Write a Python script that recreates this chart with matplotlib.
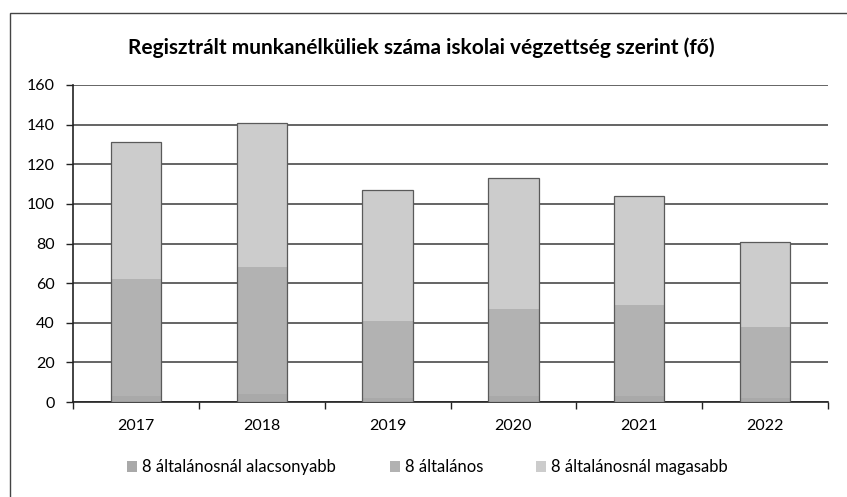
import matplotlib.pyplot as plt
import numpy as np
from matplotlib.patches import Rectangle

# Data (bottom segment barely visible)
years = ['2017', '2018', '2019', '2020', '2021', '2022']
alacsonyabb = [3, 4, 2, 3, 3, 2]
altalanos = [59, 64, 39, 44, 46, 36]
magasabb = [69, 73, 66, 66, 55, 43]
labels = ['8 általánosnál alacsonyabb', '8 általános', '8 általánosnál magasabb']
yticks = [0, 20, 40, 60, 80, 100, 120, 140, 160]

plt.rcParams['font.family'] = ['Lato', 'DejaVu Sans']

fig = plt.figure(figsize=(8.47, 4.97), dpi=100)
ax = fig.add_axes([0.0862, 0.191, 0.8914, 0.638])

x = np.arange(len(years))
w = 0.4
a = np.array(alacsonyabb)
b = np.array(altalanos)
c = np.array(magasabb)

ax.bar(x, a, w, color='#a9a9a9', label=labels[0], zorder=3)
ax.bar(x, b, w, bottom=a, color='#b2b2b2', label=labels[1], zorder=3)
ax.bar(x, c, w, bottom=a + b, color='#cccccc', label=labels[2], zorder=3)
# outline around each stack
ax.bar(x, a + b + c, w, fill=False, edgecolor='#5a5a5a', linewidth=0.9, zorder=4)

ax.set_ylim(0, 160)
ax.set_xlim(-0.5, len(years) - 0.5)
ax.set_yticks(yticks)
ax.yaxis.grid(True, color='#3a3a3a', linewidth=1.1, zorder=0)
ax.set_axisbelow(True)

ax.set_xticks(x)
ax.set_xticklabels(years, fontsize=11.5)
ax.set_xticks(np.arange(-0.5, len(years)), minor=True)
ax.tick_params(axis='x', which='major', length=0, pad=12)
ax.tick_params(axis='x', which='minor', length=5, width=1, color='#222')
ax.tick_params(axis='y', labelsize=11.5, length=5, width=1, color='#222', pad=8)

for s in ['top', 'right']:
    ax.spines[s].set_visible(False)
ax.spines['left'].set_color('#222')
ax.spines['bottom'].set_color('#222')
ax.spines['left'].set_linewidth(1.2)
ax.spines['bottom'].set_linewidth(1.2)

fig.text(0.497, 0.905, 'Regisztrált munkanélküliek száma iskolai végzettség szerint (fő)',
         ha='center', va='center', fontsize=15, fontweight='bold')

fig.legend(loc='center', bbox_to_anchor=(0.505, 0.06), ncol=3, frameon=False,
           fontsize=12, handlelength=0.6, handleheight=0.6, handletextpad=0.3,
           columnspacing=3.2)

# outer frame of the chart (right/bottom edges fall outside the scan)
fig.patches.append(Rectangle((0.012, -0.05), 1.05, 1.024, transform=fig.transFigure,
                             fill=False, edgecolor='#444', linewidth=1.0))

fig.savefig('out.png', dpi=100)
